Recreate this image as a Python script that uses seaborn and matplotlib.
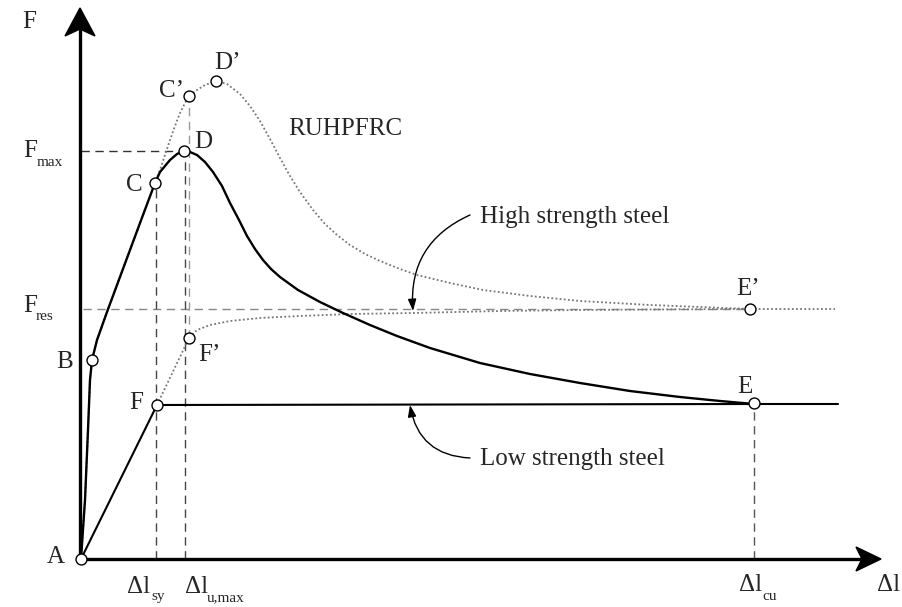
import numpy as np
import pandas as pd
import matplotlib
matplotlib.use("Agg")
import matplotlib.pyplot as plt
from matplotlib.patches import Polygon
import seaborn as sns

# ---------------- data (Δl, F) ----------------
point_labels = ["A", "B", "C", "D", "C’", "D’", "F", "F’", "E", "E’"]
point_dl = [0, 11, 74, 103, 108, 135, 76, 108, 673, 669]
point_F = [0, 199, 376, 408, 463, 478, 154, 221, 156, 250]

# solid black curve A-B-C-D-E
solid_dl = [0, 4, 7, 9, 11, 16, 26, 36, 49, 62, 74, 79, 89, 96, 103, 109, 116, 124,
            132, 141, 149, 158, 166, 174, 182, 190, 199, 217, 239, 262, 289, 316,
            349, 399, 449, 499, 549, 599, 639, 673]
solid_F = [0, 59, 129, 179, 199, 219, 247, 274, 309, 344, 376, 387, 399, 405, 408, 407,
           404, 397, 387, 373, 356, 339, 323, 310, 299, 290, 282, 269, 257, 246, 234,
           223, 211, 196, 185, 176, 168, 162, 158, 155]

# dotted grey curve A-B-C-C'-D'-E'
dotted_dl = [0, 4, 7, 9, 11, 16, 26, 36, 49, 62, 74, 79, 84, 89, 94, 99, 104, 108, 116,
             124, 135, 146, 159, 169, 179, 189, 199, 209, 219, 232, 244, 256, 269, 284,
             299, 319, 336, 369, 402, 449, 499, 569, 632, 669, 754]
dotted_F = [0, 59, 129, 179, 199, 219, 247, 274, 309, 344, 376, 389, 404, 419, 433, 446,
            456, 463, 469, 474, 478, 475, 465, 453, 438, 420, 401, 383, 367, 349, 335,
            324, 314, 305, 298, 290, 284, 276, 269, 263, 258, 254, 251.5, 250, 250]

# high strength steel (dotted grey) F-F'-E'
high_dl = [76, 108, 116, 129, 149, 179, 219, 269, 332, 419, 499, 569, 669]
high_F = [154, 221, 229, 234, 238, 241, 243, 245, 246, 248, 249, 249.5, 250]

# low strength steel (solid black) A-F-E
low_dl = [0, 76, 673, 757]
low_F = [0, 154, 155, 155]

F_max = 408
F_res = 250
dl_sy = 75
dl_umax = 104
dl_cu = 673
dl_Cp = 108
F_Cp = 463
F_Fp = 221

# ---------------- figure ----------------
sns.set_style("white")
plt.rcParams["font.family"] = ["Liberation Serif", "DejaVu Serif"]

fig = plt.figure(figsize=(9.02, 6.07), dpi=100)
ax = fig.add_axes([0, 0, 1, 1])
ax.set_xlim(-81, 821)
ax.set_ylim(559 - 607, 559)
ax.axis("off")


def u(px, py):
    return px - 81, 559 - py


dot_style = (0, (1.0, 1.3))
dash_style = (0, (6, 4))

# guide lines
ax.plot([0, dl_umax], [F_max, F_max], color="#333333", lw=1.0, ls=dash_style, zorder=1)
ax.plot([2, 669], [F_res, F_res], color="#888888", lw=1.0, ls=dash_style, zorder=1)
ax.plot([dl_sy, dl_sy], [0, 376], color="#444444", lw=1.0, ls=dash_style, zorder=1)
ax.plot([dl_umax, dl_umax], [0, F_max], color="#444444", lw=1.0, ls=dash_style, zorder=1)
ax.plot([dl_Cp, dl_Cp], [F_Fp, F_Cp], color="#999999", lw=1.0, ls=dash_style, zorder=1)
ax.plot([dl_cu, dl_cu], [0, 155], color="#555555", lw=1.0, ls=dash_style, zorder=1)

# curves
df_dot = pd.DataFrame({"dl": dotted_dl, "F": dotted_F})
df_high = pd.DataFrame({"dl": high_dl, "F": high_F})
df_solid = pd.DataFrame({"dl": solid_dl, "F": solid_F})
df_low = pd.DataFrame({"dl": low_dl, "F": low_F})

sns.lineplot(data=df_dot, x="dl", y="F", sort=False, estimator=None, ax=ax,
             color="#777777", lw=1.3, linestyle=dot_style, zorder=2)
sns.lineplot(data=df_high, x="dl", y="F", sort=False, estimator=None, ax=ax,
             color="#777777", lw=1.3, linestyle=dot_style, zorder=2)
sns.lineplot(data=df_solid, x="dl", y="F", sort=False, estimator=None, ax=ax,
             color="black", lw=1.7, zorder=3)
sns.lineplot(data=df_low, x="dl", y="F", sort=False, estimator=None, ax=ax,
             color="black", lw=1.5, zorder=3)

# axes with arrow heads
ax.plot([-1, -1], [0, 531], color="black", lw=2.4, solid_capstyle="butt", zorder=4)
ax.plot([-1, 782], [0, 0], color="black", lw=2.4, solid_capstyle="butt", zorder=4)
ax.add_patch(Polygon([u(80, 8), u(65, 36), u(80, 29), u(95, 36)], closed=True,
                     color="black", zorder=4))
ax.add_patch(Polygon([u(881, 559), u(856, 547), u(862, 559), u(856, 571)], closed=True,
                     color="black", zorder=4))

# points
sns.scatterplot(x=point_dl, y=point_F, ax=ax, s=62, facecolor="white",
                edgecolor="black", linewidth=1.0, zorder=6)

# point labels (pixel positions of label centres)
label_pos = {"A": (56, 555), "B": (65, 360), "C": (134, 183), "D": (203, 140),
             "C’": (172, 89), "D’": (227, 61), "F": (136, 401), "F’": (209, 353),
             "E": (745, 385), "E’": (748, 287)}
for lab in point_labels:
    px, py = label_pos[lab]
    x, y = u(px, py + 8)
    ax.text(x, y, lab, fontsize=18, ha="center", va="baseline", zorder=7)

# axis titles
ax.text(*u(29, 28), "F", fontsize=18, ha="center", va="baseline")
ax.text(*u(877, 591), "Δl", fontsize=18, ha="left", va="baseline")


# subscripted labels
def sub_label(px, py, main, sub, spx, spy):
    ax.text(*u(px, py), main, fontsize=18, ha="left", va="baseline")
    ax.text(*u(spx, spy), sub, fontsize=11, ha="left", va="baseline")


sub_label(23, 157, "F", "max", 37, 166)
sub_label(23, 312, "F", "res", 36, 320)
sub_label(127, 593, "Δl", "sy", 151, 600)
sub_label(185, 593, "Δl", "u,max", 207, 601)
sub_label(739, 591, "Δl", "cu", 762, 600)

# curve names
ax.text(*u(288, 135), "RUHPFRC", fontsize=18, ha="left", va="baseline")
ax.text(*u(480, 223), "High strength steel", fontsize=18, ha="left", va="baseline")
ax.text(*u(480, 465), "Low strength steel", fontsize=18, ha="left", va="baseline")

arrow_kw = dict(arrowstyle="-|>,head_length=0.7,head_width=0.25", color="black",
                lw=1.0, shrinkA=0, shrinkB=0, mutation_scale=10)
ax.annotate("", xy=u(413, 311), xytext=u(470, 215),
            arrowprops=dict(connectionstyle="arc3,rad=0.35", **arrow_kw))
ax.annotate("", xy=u(410, 405), xytext=u(470, 458),
            arrowprops=dict(connectionstyle="arc3,rad=-0.4", **arrow_kw))

fig.savefig("out.png", dpi=100)
